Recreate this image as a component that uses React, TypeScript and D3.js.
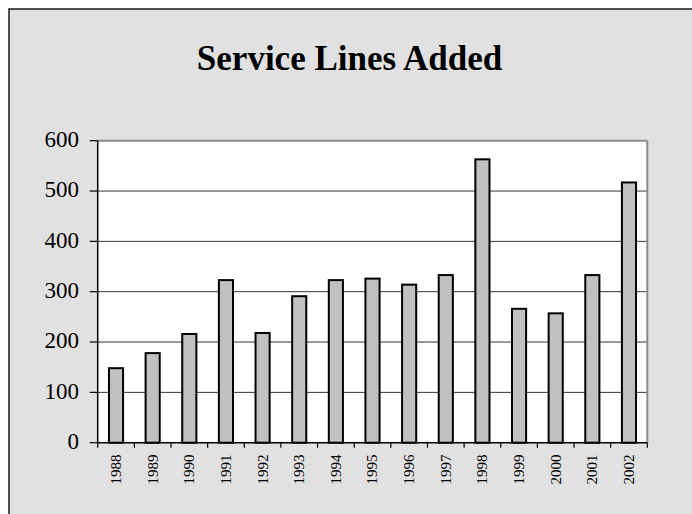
import React from "react";
import * as d3 from "d3";

const years = ["1988","1989","1990","1991","1992","1993","1994","1995","1996","1997","1998","1999","2000","2001","2002"];
const linesAdded = [150, 180, 218, 325, 220, 293, 325, 328, 316, 335, 565, 268, 259, 335, 519];
const yTicks = [0, 100, 200, 300, 400, 500, 600];
const title = "Service Lines Added";

const W = 692;
const H = 514;
const plot = { left: 97.7, right: 647.3, top: 140.7, bottom: 442.7 };
const serif = "'Liberation Serif', 'Times New Roman', serif";

export default function App() {
  const x = d3.scaleBand<string>().domain(years).range([plot.left, plot.right]).paddingInner(0.56).paddingOuter(0.28);
  const y = d3.scaleLinear().domain([0, 600]).range([plot.bottom, plot.top]);
  const step = x.step();
  const bw = x.bandwidth();
  const boundaries = d3.range(years.length + 1).map((i) => plot.left + i * step);

  return (
    <svg width={W} height={H} style={{ position: "absolute", left: 0, top: 0, display: "block" }}>
      <rect x={0} y={0} width={W} height={H} fill="#ffffff" />
      <rect x={9} y={9} width={W + 20} height={H + 20} fill="#e1e1e1" stroke="#1a1a1a" strokeWidth={1.5} />
      <text x={349.5} y={70} textAnchor="middle" fontFamily={serif} fontWeight="bold" fontSize={35} fill="#000">
        {title}
      </text>
      <rect x={plot.left} y={plot.top} width={plot.right - plot.left} height={plot.bottom - plot.top} fill="#ffffff" />
      {yTicks.filter((t) => t > 0 && t < 600).map((t) => (
        <line key={"g" + t} x1={plot.left} x2={plot.right} y1={y(t)} y2={y(t)} stroke="#333333" strokeWidth={1} />
      ))}
      <line x1={plot.left} x2={plot.right} y1={plot.top} y2={plot.top} stroke="#8a8a8a" strokeWidth={2} />
      <line x1={plot.right} x2={plot.right} y1={plot.top} y2={plot.bottom} stroke="#8a8a8a" strokeWidth={2} />
      {years.map((yr, i) => {
        const x0 = x(yr) as number;
        const v = linesAdded[i];
        return (
          <rect key={yr} x={x0 + 1} y={y(v) + 1} width={bw - 2} height={y(0) - y(v) - 1}
            fill="#c0c0c0" stroke="#000000" strokeWidth={2} />
        );
      })}
      <line x1={plot.left} x2={plot.left} y1={plot.top} y2={plot.bottom} stroke="#000" strokeWidth={1.5} />
      <line x1={plot.left} x2={plot.right} y1={plot.bottom} y2={plot.bottom} stroke="#000" strokeWidth={1.5} />
      {yTicks.map((t) => (
        <g key={"yt" + t}>
          <line x1={plot.left - 8} x2={plot.left} y1={y(t)} y2={y(t)} stroke="#000" strokeWidth={1.2} />
          <text x={79} y={y(t)} dy="0.27em" textAnchor="end" fontFamily={serif} fontSize={23} fill="#000">
            {t}
          </text>
        </g>
      ))}
      {boundaries.map((bx, i) => (
        <line key={"xt" + i} x1={bx} x2={bx} y1={plot.bottom} y2={plot.bottom + 5} stroke="#000" strokeWidth={1.2} />
      ))}
      {years.map((yr) => {
        const cx = (x(yr) as number) + bw / 2;
        return (
          <text key={"xl" + yr} transform={`translate(${cx},454.5) rotate(-90)`} dy="0.33em" textAnchor="end"
            fontFamily={serif} fontSize={15} fill="#000">
            {yr}
          </text>
        );
      })}
    </svg>
  );
}
